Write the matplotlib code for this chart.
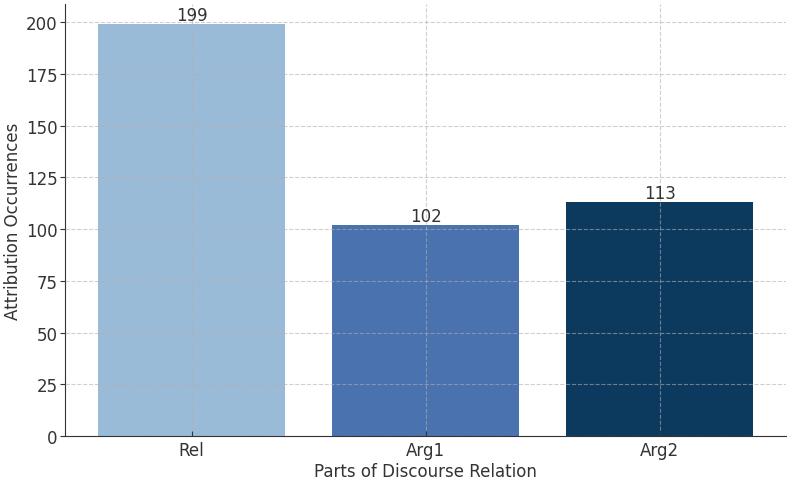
import matplotlib.pyplot as plt

parts = ["Rel", "Arg1", "Arg2"]
occurrences = [199, 102, 113]
bar_colors = ["#9abbd8", "#4a72ae", "#0c3a5e"]

plt.rcParams['font.family'] = ['DejaVu Sans']
plt.rcParams['font.size'] = 12
plt.rcParams['text.color'] = '#333333'
plt.rcParams['axes.labelcolor'] = '#333333'
plt.rcParams['xtick.color'] = '#333333'
plt.rcParams['ytick.color'] = '#333333'

fig, ax = plt.subplots(figsize=(7.87, 4.81), dpi=100)
fig.subplots_adjust(left=0.083, right=0.999, bottom=0.0915, top=0.99)

bars = ax.bar(parts, occurrences, color=bar_colors, width=0.8, zorder=1)
for b, v in zip(bars, occurrences):
    ax.text(b.get_x() + b.get_width() / 2, v, str(v), ha='center', va='bottom', fontsize=12)

ax.set_xlabel("Parts of Discourse Relation", labelpad=2)
ax.set_ylabel("Attribution Occurrences", labelpad=3)
ax.grid(True, linestyle='--', color='#b0b0b0', alpha=0.6, linewidth=0.8, zorder=2)
ax.set_axisbelow(False)
ax.spines['top'].set_visible(False)
ax.spines['right'].set_visible(False)
ax.spines['left'].set_color('#333333')
ax.spines['bottom'].set_color('#333333')
ax.tick_params(axis='x', direction='in')
ax.tick_params(axis='y', pad=2)

fig.savefig("out.png", dpi=100)
